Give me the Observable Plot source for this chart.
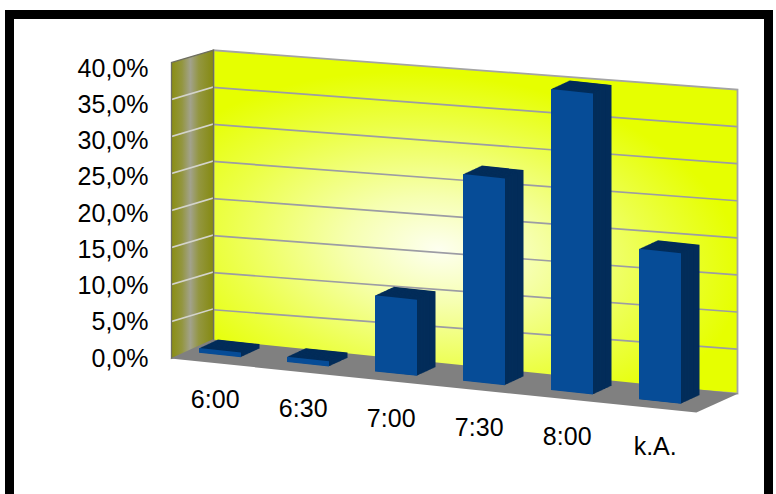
<!DOCTYPE html>
<html><head><meta charset="utf-8">
<script src="https://cdn.jsdelivr.net/npm/d3@7"></script>
<script src="https://cdn.jsdelivr.net/npm/@observablehq/plot@0.6"></script>
<style>
html,body{margin:0;padding:0;background:#fff;}
#chart{position:relative;width:776px;height:494px;overflow:hidden;background:#fff;font-family:"Liberation Sans",Arial,sans-serif;}
#chart svg{position:absolute;left:0;top:0;}
#border{position:absolute;left:5px;top:10px;width:750px;height:520px;border:9px solid #000;}
</style></head><body>
<div id="chart"></div>
<script>
// ---- data ----
const categories = ["6:00", "6:30", "7:00", "7:30", "8:00", "k.A."];
const shares = [0.6, 0.7, 9.9, 26.9, 39.2, 19.6];          // percent
const yTicks = [0, 5, 10, 15, 20, 25, 30, 35, 40];
const yTickLabels = ["0,0%", "5,0%", "10,0%", "15,0%", "20,0%", "25,0%", "30,0%", "35,0%", "40,0%"];

const data = categories.map((c, i) => ({category: c, share: shares[i]}));
const innerTicks = yTicks.filter(d => d > yTicks[0] && d < yTicks[yTicks.length - 1]);
const yMax = yTicks[yTicks.length - 1];

const chart = document.getElementById("chart");
const W = 776, H = 494;
const FONT = '"Liberation Sans", Arial, sans-serif';

function layer(options, matrix) {
  const svg = Plot.plot({
    width: W, height: H,
    style: {background: "transparent", overflow: "visible", fontFamily: FONT, fontSize: "25px", color: "#000"},
    ...options
  });
  if (matrix) {
    const g = document.createElementNS("http://www.w3.org/2000/svg", "g");
    g.setAttribute("transform", `matrix(${matrix.join(",")})`);
    for (const child of Array.from(svg.childNodes)) {
      if (child.tagName !== "style") g.appendChild(child);
    }
    svg.appendChild(g);
  }
  chart.appendChild(svg);
  return svg;
}

// ---- back wall ----
const wall = layer({
  marginLeft: 213, marginRight: 39, marginTop: 69.4, marginBottom: 120.6,
  y: {domain: [-1, yMax], axis: null},
  marks: [
    Plot.frame({fill: "url(#wallGrad)"}),
    Plot.ruleY(innerTicks, {stroke: "#9c9ca4", strokeWidth: 1.7}),
    Plot.frame({stroke: "#a4a4a4", strokeWidth: 1.8})
  ]
}, [1, 0.075, 0, 1, 0, -0.075 * 475]);
{
  const defs = d3.select(wall).insert("defs", ":first-child");
  const rg = defs.append("radialGradient").attr("id", "wallGrad")
    .attr("cx", 0.43).attr("cy", 0.6).attr("r", 0.58);
  [[0, "#fdfff0"], [0.3, "#f6ffb0"], [0.7, "#ecff48"], [1, "#e6ff00"]]
    .forEach(([o, c]) => rg.append("stop").attr("offset", o).attr("stop-color", c));
}

// ---- side wall ----
const side = layer({
  marginLeft: 171, marginRight: 563, marginTop: 62.2, marginBottom: 136,
  y: {domain: [0, yMax], axis: null},
  marks: [
    Plot.frame({fill: "url(#sideGrad)"}),
    Plot.ruleY(innerTicks, {stroke: "#d4d4cc", strokeWidth: 1.7}),
    Plot.frame({stroke: "#6e6e60", strokeWidth: 1.3})
  ]
}, [1, -0.298, 0, 1, 0, 0.298 * 171]);
{
  const defs = d3.select(side).insert("defs", ":first-child");
  const lg = defs.append("linearGradient").attr("id", "sideGrad")
    .attr("x1", 0).attr("x2", 1).attr("y1", 0).attr("y2", 0);
  [[0, "#8a8e12"], [0.25, "#939640"], [0.45, "#a2a28c"], [0.65, "#939640"], [1, "#858a10"]]
    .forEach(([o, c]) => lg.append("stop").attr("offset", o).attr("stop-color", c));
}

// ---- floor ----
layer({
  marginLeft: 171, marginRight: 79, marginTop: 339, marginBottom: 136,
  marks: [Plot.frame({fill: "#808080"})]
}, [1, 0.1027, -42 / 19, 1, (42 / 19) * 358, -0.1027 * 171]);

// ---- bars + category labels ----
const K = 0.106;
const depthX = 18.5, depthY = -10.5, steps = 20;
const sideMarks = d3.range(steps, 0, -1).map(i =>
  Plot.barY(data, {x: "category", y: "share", fill: "#032d5a", dx: depthX * i / steps, dy: depthY * i / steps}));
const bars = layer({
  marginLeft: 152.1, marginRight: 47.5, marginTop: 71.1, marginBottom: 115.7,
  x: {domain: categories, padding: 0.52, axis: null},
  y: {domain: [0, yMax], axis: null},
  marks: [
    ...sideMarks,
    Plot.barY(data, {x: "category", y: "share", fill: "#064c97"}),
    Plot.text(data, {x: "category", text: "category", frameAnchor: "bottom", dy: 53, dx: -5.3,
                     fontSize: 25, fill: "#000"})
  ]
}, [1, K, 0, 1, 0, -K * 440.3]);
{
  const ang = Math.atan(K) * 180 / Math.PI;
  bars.querySelectorAll('g[aria-label="text"] text').forEach(t => {
    const tr = t.getAttribute("transform") || "";
    t.setAttribute("transform", `${tr} skewY(${-ang})`);
  });
}

// ---- y axis labels ----
layer({
  marginLeft: 151, marginRight: 560, marginTop: 68, marginBottom: 136,
  y: {domain: [0, yMax], ticks: yTicks, tickFormat: d => yTickLabels[yTicks.indexOf(d)],
      tickSize: 0, tickPadding: 3, label: null},
  marks: [Plot.ruleY(yTicks, {stroke: "none"})]
});

const border = document.createElement("div");
border.id = "border";
chart.appendChild(border);
</script>
</body></html>
